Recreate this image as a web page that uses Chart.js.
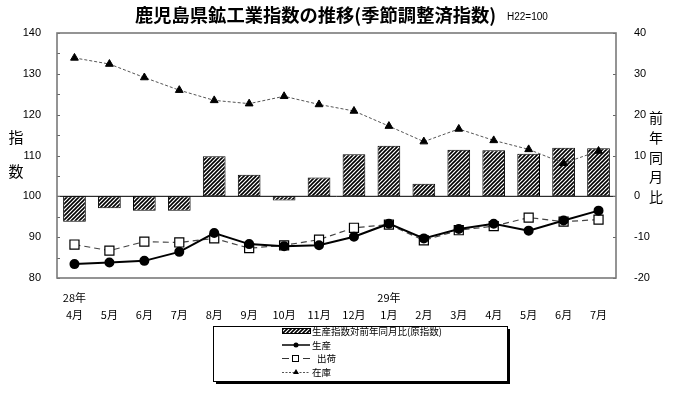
<!DOCTYPE html>
<html>
<head>
<meta charset="utf-8">
<script src="https://cdn.jsdelivr.net/npm/chart.js@4"></script>
<style>
  html,body{margin:0;padding:0;background:#fff;}
  #wrap{width:700px;height:394px;position:relative;}
</style>
</head>
<body>
<div id="wrap"><canvas id="c" width="700" height="394"></canvas></div>
<script>
// values
const months = ['4月','5月','6月','7月','8月','9月','10月','11月','12月','1月','2月','3月','4月','5月','6月','7月'];
const yearMarks = ['28年','','','','','','','','','29年','','','','','',''];
const yoy = [-6.2,-2.9,-3.5,-3.5,9.8,5.3,-1.0,4.6,10.3,12.4,3.1,11.4,11.3,10.4,11.9,11.8];
const production = [83.4,83.8,84.2,86.4,91.0,88.3,87.8,88.0,90.1,93.3,89.7,92.0,93.3,91.6,94.1,96.5];
const shipments = [88.2,86.7,88.9,88.7,89.7,87.3,88.0,89.4,92.3,93.1,89.2,91.7,92.7,94.8,93.8,94.3];
const inventory = [133.9,132.4,129.1,126.0,123.5,122.7,124.5,122.5,120.9,117.2,113.4,116.5,113.7,111.5,108.1,111.1];

const leftTicks = [80,90,100,110,120,130,140];
const rightTicks = [-20,-10,0,10,20,30,40];

const jp = '"Noto Sans CJK JP", sans-serif';
const num = '"Liberation Sans", Arial, sans-serif';

function hatch(){
  const p = document.createElement('canvas');
  p.width = 4; p.height = 4;
  const g = p.getContext('2d');
  g.fillStyle = '#fff'; g.fillRect(0,0,4,4);
  g.strokeStyle = '#000'; g.lineWidth = 1.6;
  g.beginPath();
  g.moveTo(-1,5); g.lineTo(5,-1);
  g.moveTo(-1,1); g.lineTo(1,-1);
  g.moveTo(3,5); g.lineTo(5,3);
  g.stroke();
  return g.createPattern(p,'repeat');
}
const pat = hatch();

// frame, inner tick marks, zero line, titles, legend
const decor = {
  id:'decor',
  beforeDatasetsDraw(chart){
    const {ctx, chartArea:a, scales} = chart;
    const y0 = scales.y.getPixelForValue(100);
    ctx.save();
    ctx.strokeStyle = '#000'; ctx.lineWidth = 1;
    ctx.beginPath(); ctx.moveTo(a.left, y0); ctx.lineTo(a.right, y0); ctx.stroke();
    ctx.restore();
  },
  afterDraw(chart){
    const {ctx, chartArea:a, scales} = chart;
    ctx.save();
    // ticks
    ctx.strokeStyle = '#666'; ctx.lineWidth = 1;
    ctx.beginPath();
    for(let v=80; v<=140; v+=5){
      const py = Math.round(scales.y.getPixelForValue(v))+0.5;
      ctx.moveTo(a.left, py); ctx.lineTo(a.left+3, py);
    }
    rightTicks.forEach(v=>{
      const py = Math.round(scales.y1.getPixelForValue(v))+0.5;
      ctx.moveTo(a.right-3, py); ctx.lineTo(a.right, py);
    });
    ctx.stroke();
    // frame
    ctx.strokeStyle = '#7a7a7a'; ctx.lineWidth = 1.6;
    ctx.strokeRect(a.left, a.top, a.right-a.left, a.bottom-a.top);

    // title
    ctx.fillStyle = '#000';
    ctx.textBaseline = 'middle';
    ctx.textAlign = 'left';
    const title = '鹿児島県鉱工業指数の推移(季節調整済指数)';
    ctx.font = 'bold 17px ' + jp;
    const tw = ctx.measureText(title).width;
    const fs = Math.min(20, 17 * 362 / tw);
    ctx.font = 'bold ' + fs.toFixed(1) + 'px ' + jp;
    ctx.fillText(title, 135, 15);
    ctx.font = '10px ' + num;
    ctx.fillText('H22=100', 507, 17);

    // axis titles
    ctx.textAlign = 'center';
    ctx.font = '15px ' + jp;
    ctx.fillText('指', 16, 137);
    ctx.fillText('数', 16, 171);
    ctx.font = '14px ' + jp;
    ['前','年','同','月','比'].forEach((ch,i)=> ctx.fillText(ch, 656, 118 + i*19.7));

    // legend box
    const lx = 213, ly = 326, lw = 294, lh = 55;
    ctx.fillStyle = '#000';
    ctx.fillRect(lx+3, ly+3, lw, lh);
    ctx.fillStyle = '#fff';
    ctx.fillRect(lx, ly, lw, lh);
    ctx.strokeStyle = '#000'; ctx.lineWidth = 1;
    ctx.strokeRect(lx+0.5, ly+0.5, lw, lh);

    const sx = 282, ex = 310, mx = 296;
    ctx.font = '9.5px ' + jp;
    ctx.textAlign = 'left';
    // bars
    ctx.fillStyle = pat;
    ctx.fillRect(sx, 328, ex-sx, 6);
    ctx.strokeRect(sx+0.5, 328.5, ex-sx, 5);
    ctx.fillStyle = '#000';
    ctx.fillText('生産指数対前年同月比(原指数)', 312, 331);
    // production
    ctx.lineWidth = 1.5;
    ctx.beginPath(); ctx.moveTo(sx, 345); ctx.lineTo(ex, 345); ctx.stroke();
    ctx.beginPath(); ctx.arc(mx, 345, 2.5, 0, Math.PI*2); ctx.fill();
    ctx.fillText('生産', 312, 345);
    // shipments
    ctx.lineWidth = 1;
    ctx.strokeStyle = '#333';
    ctx.beginPath(); ctx.moveTo(sx, 358.5); ctx.lineTo(sx+7, 358.5);
    ctx.moveTo(ex-7, 358.5); ctx.lineTo(ex, 358.5); ctx.stroke();
    ctx.strokeStyle = '#000';
    ctx.strokeRect(mx-3.5, 355.5, 6, 6);
    ctx.fillText('出荷', 317, 358);
    // inventory
    ctx.strokeStyle = '#555';
    ctx.setLineDash([2,1.5]);
    ctx.beginPath(); ctx.moveTo(sx, 372.5); ctx.lineTo(ex, 372.5); ctx.stroke();
    ctx.setLineDash([]);
    ctx.beginPath(); ctx.moveTo(mx, 369); ctx.lineTo(mx+3, 374); ctx.lineTo(mx-3, 374); ctx.closePath(); ctx.fill();
    ctx.fillText('在庫', 312, 372);
    ctx.restore();
  }
};

const labels = months.map((m,i)=>[yearMarks[i], m]);

new Chart(document.getElementById('c'), {
  type:'bar',
  data:{
    labels: labels,
    datasets:[
      { type:'line', label:'生産', data:production, yAxisID:'y', order:1,
        borderColor:'#000', borderWidth:2, backgroundColor:'#000',
        pointStyle:'circle', pointRadius:4, pointBackgroundColor:'#000', pointBorderColor:'#000', tension:0 },
      { type:'line', label:'出荷', data:shipments, yAxisID:'y', order:2,
        borderColor:'#444', borderWidth:1.2, borderDash:[6,4],
        pointStyle:'rect', pointRadius:6.4, pointBackgroundColor:'#fff', pointBorderColor:'#000', pointBorderWidth:1.2, tension:0 },
      { type:'line', label:'在庫', data:inventory, yAxisID:'y', order:3,
        borderColor:'#555', borderWidth:1, borderDash:[3,2],
        pointStyle:'triangle', pointRadius:4.5, pointBackgroundColor:'#000', pointBorderColor:'#000', tension:0 },
      { type:'bar', label:'生産指数対前年同月比(原指数)', data:yoy, yAxisID:'y1', order:4,
        backgroundColor:pat, borderColor:'#000', borderWidth:1, borderSkipped:false,
        barPercentage:0.65, categoryPercentage:1 }
    ]
  },
  options:{
    responsive:false, animation:false,
    layout:{ padding:{ top:33, bottom:71, left:0, right:0 } },
    plugins:{ legend:{display:false}, tooltip:{enabled:false}, title:{display:false} },
    scales:{
      x:{
        offset:true,
        grid:{ display:false }, border:{ display:false },
        ticks:{ autoSkip:false, maxRotation:0, padding:4, color:'#000',
                font:{ family:jp, size:11, lineHeight:1.5 } },
        afterFit(s){ s.height = 45; }
      },
      y:{
        position:'left', min:80, max:140,
        grid:{ display:false }, border:{ display:false },
        afterBuildTicks(s){ s.ticks = leftTicks.map(v=>({value:v})); },
        ticks:{ padding:8, color:'#000', font:{ family:num, size:11 } },
        afterFit(s){ s.width = 57; }
      },
      y1:{
        position:'right', min:-20, max:40,
        grid:{ display:false }, border:{ display:false },
        afterBuildTicks(s){ s.ticks = rightTicks.map(v=>({value:v})); },
        ticks:{ padding:10, color:'#000', font:{ family:num, size:11 } },
        afterFit(s){ s.width = 84; }
      }
    }
  },
  plugins:[decor]
});
</script>
</body>
</html>
